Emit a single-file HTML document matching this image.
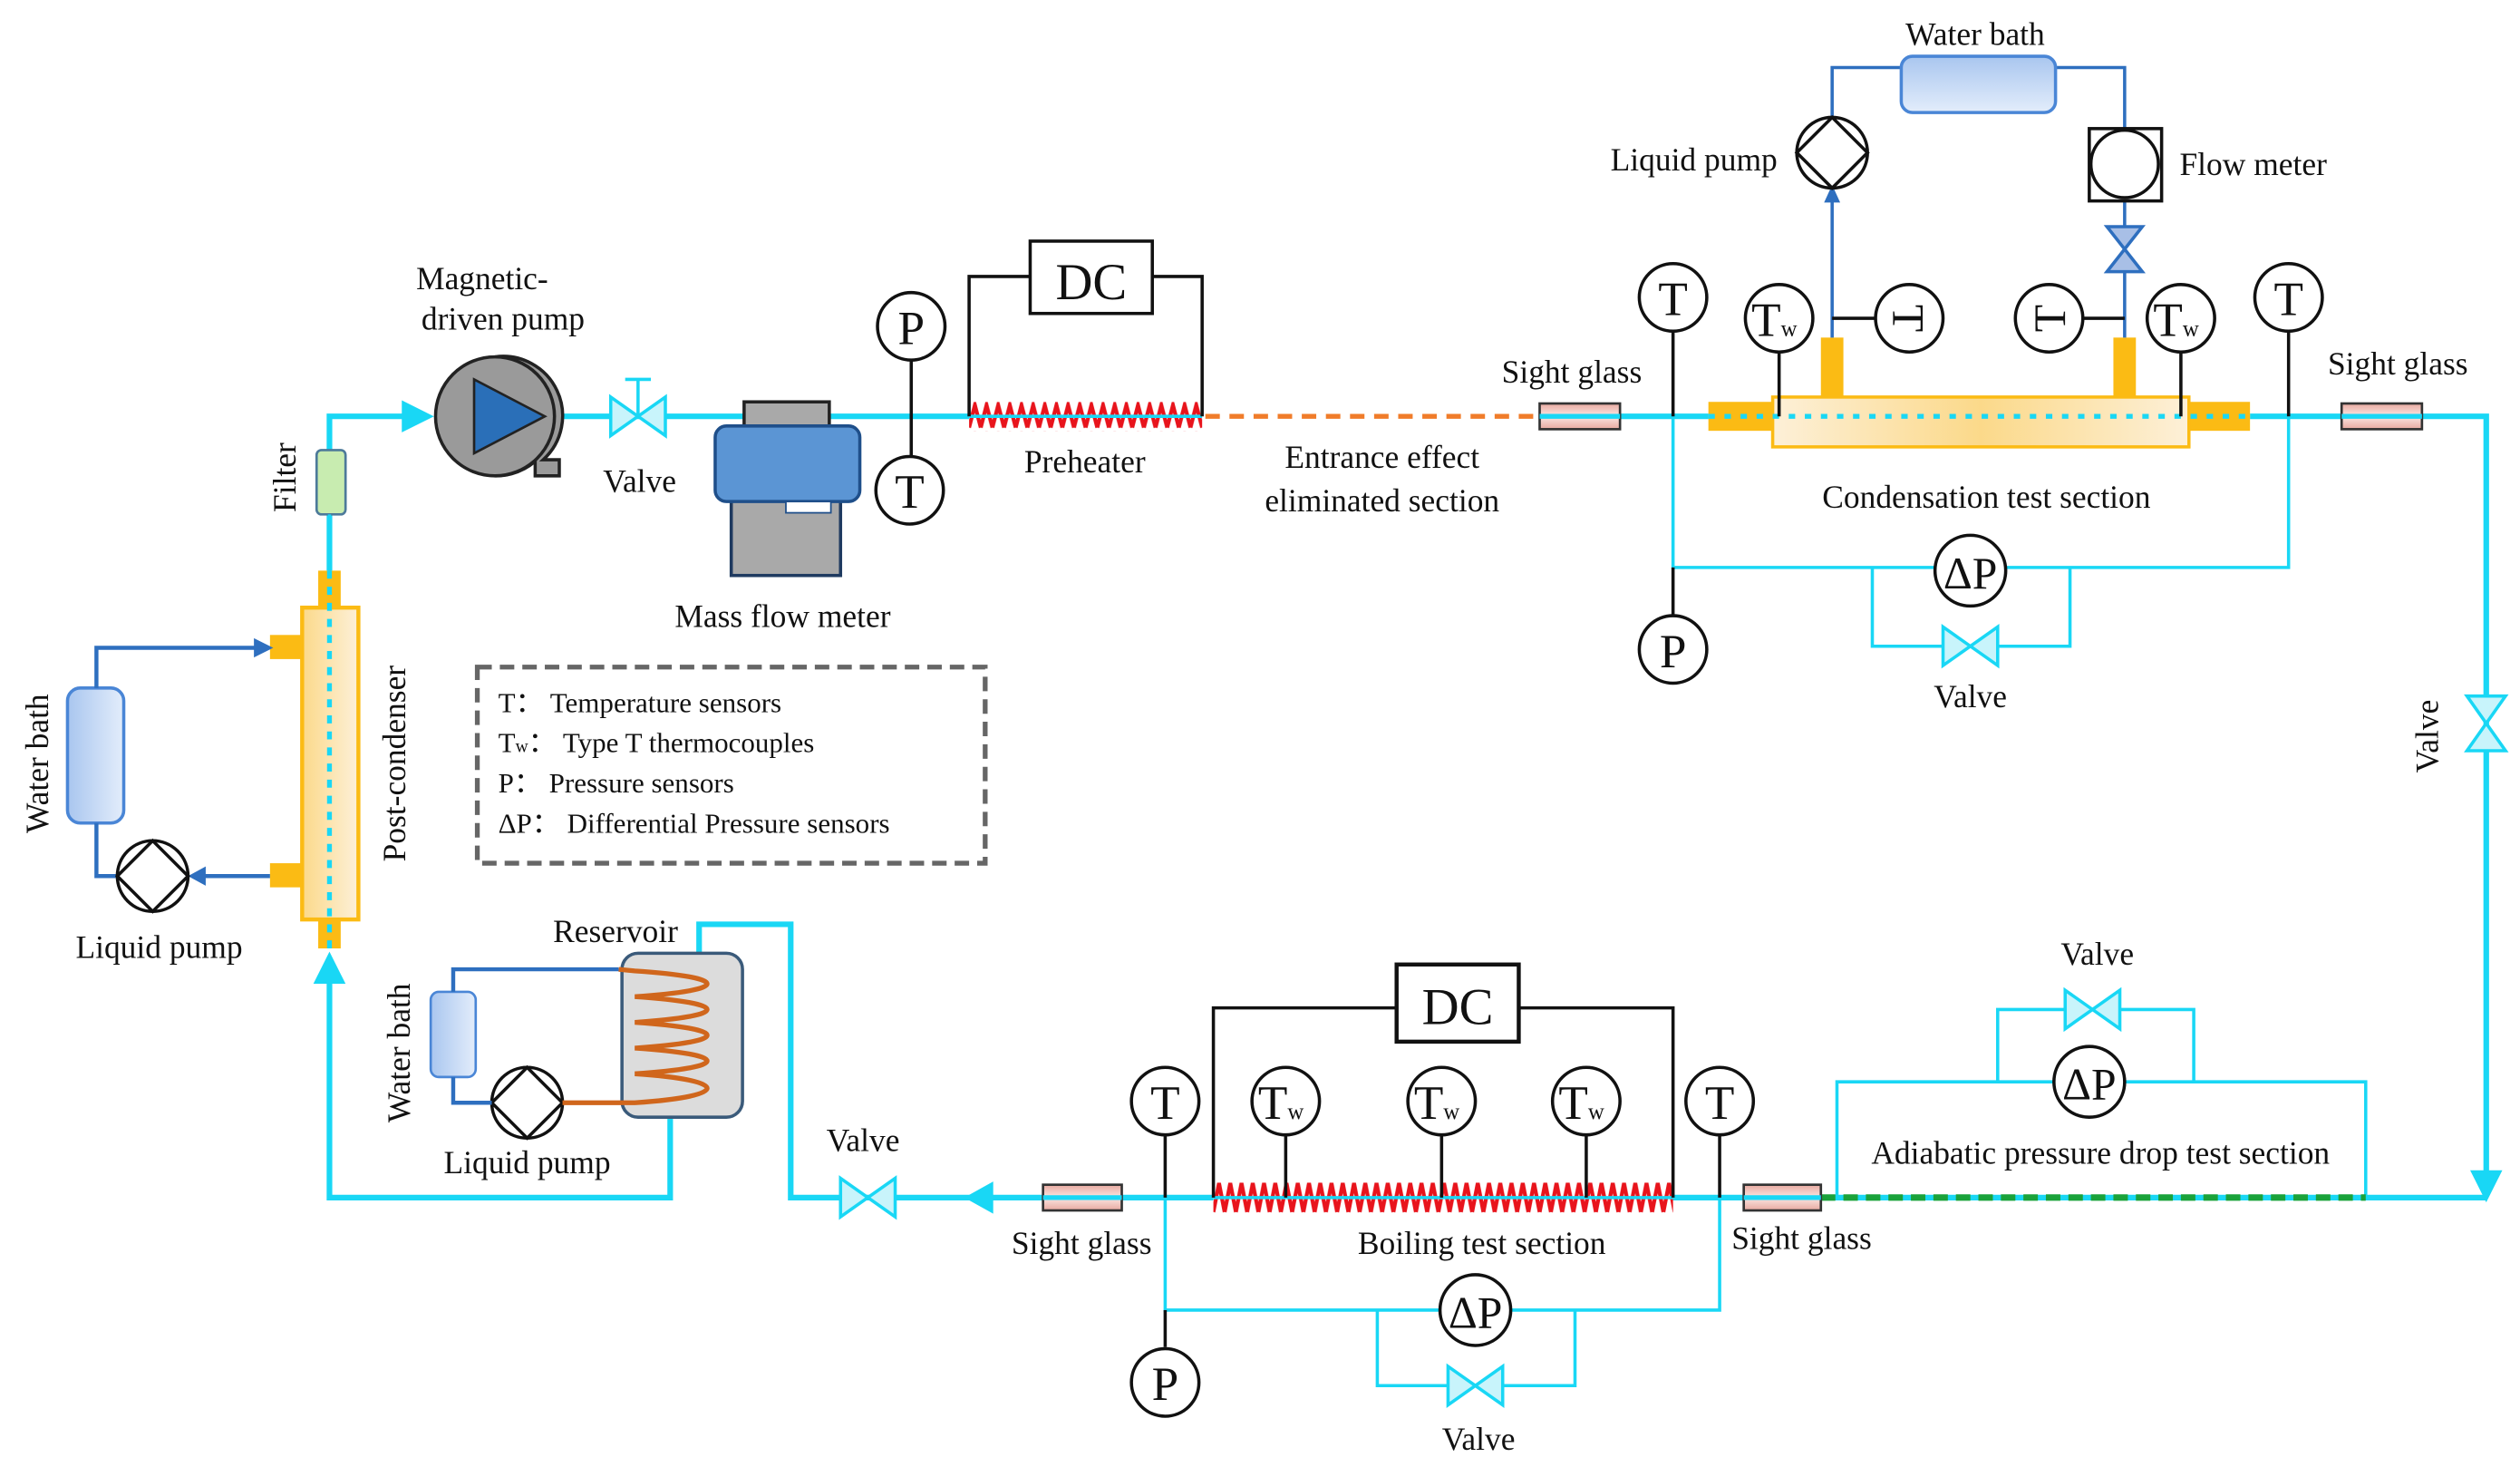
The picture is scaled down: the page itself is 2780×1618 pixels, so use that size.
<!DOCTYPE html>
<html><head><meta charset="utf-8"><style>
html,body{margin:0;padding:0;background:#fff}
svg{display:block}
text{font-family:"Liberation Serif",serif;fill:#111}
</style></head><body>
<svg width="2780" height="1618" viewBox="0 0 1568 912.6" preserveAspectRatio="none" xmlns="http://www.w3.org/2000/svg">
<defs>
<pattern id="zz1" x="603" y="250" width="7.25" height="18" patternUnits="userSpaceOnUse">
<path d="M0,16 L3.6,2 L7.25,16" fill="none" stroke="#e8141c" stroke-width="2.4"/></pattern>
<pattern id="zz2" x="755" y="734" width="7" height="22" patternUnits="userSpaceOnUse">
<path d="M0,20 L3.5,2 L7,20" fill="none" stroke="#e8141c" stroke-width="2.4"/></pattern>
<linearGradient id="gy" x1="0" x2="1"><stop offset="0" stop-color="#fdf0d8"/><stop offset="0.5" stop-color="#fbd98a"/><stop offset="1" stop-color="#fdf0d8"/></linearGradient>
<linearGradient id="gyv" x1="0" x2="1"><stop offset="0" stop-color="#fbd98a"/><stop offset="1" stop-color="#fdf0d8"/></linearGradient>
<linearGradient id="gb" x1="0" y1="0" x2="0" y2="1"><stop offset="0" stop-color="#a9c6ef"/><stop offset="1" stop-color="#e3edfb"/></linearGradient>
<linearGradient id="gbh" x1="0" x2="1"><stop offset="0" stop-color="#a9c6ef"/><stop offset="1" stop-color="#e3edfb"/></linearGradient>
<linearGradient id="gs" x1="0" y1="0" x2="0" y2="1"><stop offset="0" stop-color="#e8a9a0"/><stop offset="0.5" stop-color="#fbe6e2"/><stop offset="1" stop-color="#e8a9a0"/></linearGradient>
</defs>
<g fill="none" stroke="#19d7f5" stroke-width="3.5">
<polyline points="205,355 205,259 262,259"/>
<line x1="345" y1="259" x2="603" y2="259"/>
<line x1="1008" y1="259" x2="1063" y2="259"/>
<polyline points="1400,259 1547,259 1547,735"/>
<polyline points="1547,745 1133,745"/>
<line x1="1041" y1="745" x2="1085" y2="745"/>
<line x1="698" y1="745" x2="755" y2="745"/>
<polyline points="649,745 492,745 492,575 435,575 435,593"/>
<polyline points="417,695 417,745 205,745 205,605"/>
</g>
<g fill="none" stroke="#19d7f5" stroke-width="2">
<polyline points="205,260 205,280"/>
<polyline points="1041,259 1041,353 1424,353 1424,259"/>
<polyline points="1165,353 1165,402 1288,402 1288,353"/>
<polyline points="725,745 725,815 1070,815 1070,745"/>
<polyline points="857,815 857,862 980,862 980,815"/>
<polyline points="1143,745 1143,673 1472,673 1472,745"/>
<polyline points="1243,673 1243,628 1365,628 1365,673"/>
</g>
<polygon points="250,249 270,259 250,269" fill="#19d7f5"/>
<polygon points="195,612 205,592 215,612" fill="#19d7f5"/>
<polygon points="1537,728 1547,748 1557,728" fill="#19d7f5"/>
<polygon points="618,735 600,745 618,755" fill="#19d7f5"/>
<line x1="750" y1="259" x2="958" y2="259" stroke="#f07c2a" stroke-width="3" stroke-dasharray="9,6"/>
<line x1="1133" y1="745" x2="1472" y2="745" stroke="#1aa23a" stroke-width="4" stroke-dasharray="9,5"/>
<rect x="603" y="250" width="145" height="18" fill="url(#zz1)"/>
<rect x="755" y="734" width="286" height="22" fill="url(#zz2)"/>
<line x1="603" y1="259" x2="748" y2="259" stroke="#19d7f5" stroke-width="2"/>
<line x1="755" y1="745" x2="1041" y2="745" stroke="#19d7f5" stroke-width="2"/>
<g fill="none" stroke="#111" stroke-width="2">
<polyline points="641,172 603,172 603,259"/><polyline points="717,172 748,172 748,259"/>
<rect x="641" y="150" width="76" height="45" fill="#fff"/>
<polyline points="869,627 755,627 755,745"/><polyline points="945,627 1041,627 1041,745"/>
<rect x="869" y="600" width="76" height="48" fill="#fff" stroke-width="2.5"/>
</g>
<text x="679" y="186" font-size="32" text-anchor="middle">DC</text>
<text x="907" y="637" font-size="32" text-anchor="middle">DC</text>
<g stroke="#333" stroke-width="1.5" fill="url(#gs)">
<rect x="958" y="251" width="50" height="16"/><rect x="1457" y="251" width="50" height="16"/>
<rect x="649" y="737" width="49" height="16"/><rect x="1085" y="737" width="48" height="16"/>
</g>
<g stroke="#19d7f5" stroke-width="3"><line x1="958" y1="259" x2="1008" y2="259"/><line x1="1457" y1="259" x2="1507" y2="259"/><line x1="649" y1="745" x2="698" y2="745"/><line x1="1085" y1="745" x2="1133" y2="745"/></g>
<path d="M308,222 A37,37 0 1 0 333,287 L333,296 L348,296 L348,286 L338,286 A37,37 0 0 0 308,222 Z" fill="#9a9a9a" stroke="#222" stroke-width="2"/>
<circle cx="308" cy="259" r="37" fill="#9a9a9a" stroke="#222" stroke-width="2"/>
<polygon points="295,236 295,282 339,259" fill="#2a6fb8" stroke="#222" stroke-width="1.5"/>
<g fill="#c8f4fb" stroke="#19d7f5" stroke-width="2">
<polygon points="380,247 414,271 414,247 380,271"/>
<polygon points="1209,390 1243,414 1243,390 1209,414"/>
<polygon points="523,733 557,757 557,733 523,757"/>
<polygon points="901,850 935,874 935,850 901,874"/>
<polygon points="1285,616 1319,640 1319,616 1285,640"/>
<polygon points="1535,433 1559,467 1535,467 1559,433"/>
</g>
<g stroke="#19d7f5" stroke-width="2"><line x1="397" y1="236" x2="397" y2="259"/><line x1="389" y1="236" x2="405" y2="236"/></g>
<rect x="463" y="250" width="53" height="20" fill="#a9a9a9" stroke="#222" stroke-width="2"/>
<rect x="455" y="308" width="68" height="50" fill="#a9a9a9" stroke="#1f3a60" stroke-width="2"/>
<rect x="445" y="265" width="90" height="47" rx="7" fill="#5b95d4" stroke="#1f4f8a" stroke-width="2"/>
<rect x="489" y="312" width="28" height="7" fill="#fff" stroke="#1f4f8a" stroke-width="1"/>
<rect x="197" y="280" width="18" height="40" rx="3" fill="#c8ecb0" stroke="#4d7a9a" stroke-width="1.5"/>
<line x1="205" y1="320" x2="205" y2="355" stroke="#19d7f5" stroke-width="2"/>
<rect x="198" y="355" width="14" height="235" fill="#fbbb14"/>
<rect x="188" y="378" width="35" height="194" fill="url(#gyv)" stroke="#fbbb14" stroke-width="2.5"/>
<rect x="168" y="395" width="20" height="15" fill="#fbbb14"/><rect x="168" y="537" width="20" height="15" fill="#fbbb14"/>
<line x1="205" y1="355" x2="205" y2="590" stroke="#19d7f5" stroke-width="3" stroke-dasharray="5,5"/>
<rect x="42" y="428" width="35" height="84" rx="8" fill="url(#gbh)" stroke="#4a86d6" stroke-width="2"/>
<g fill="none" stroke="#2e6fbf" stroke-width="2.5"><polyline points="60,428 60,403 162,403"/><polyline points="60,512 60,545 73,545"/><line x1="168" y1="545" x2="125" y2="545"/></g>
<polygon points="158,397 170,403 158,409" fill="#2e6fbf"/><polygon points="128,539 117,545 128,551" fill="#2e6fbf"/>
<rect x="1063" y="250" width="337" height="18" fill="#fbbb14"/>
<rect x="1103" y="247" width="259" height="31" fill="url(#gy)" stroke="#fbbb14" stroke-width="2"/>
<rect x="1133" y="210" width="14" height="37" fill="#fbbb14"/><rect x="1315" y="210" width="14" height="37" fill="#fbbb14"/>
<line x1="1063" y1="259" x2="1400" y2="259" stroke="#19d7f5" stroke-width="3" stroke-dasharray="4,6"/>
<g fill="none" stroke="#2e6fbf" stroke-width="2">
<polyline points="1140,210 1140,125"/><polyline points="1140,73 1140,42 1183,42"/>
<polyline points="1279,42 1322,42 1322,80"/><polyline points="1322,125 1322,210"/>
</g>
<polygon points="1135,126 1140,115 1145,126" fill="#2e6fbf"/>
<rect x="1183" y="35" width="96" height="35" rx="7" fill="url(#gb)" stroke="#4a86d6" stroke-width="2"/>
<rect x="1300" y="80" width="45" height="45" fill="#fff" stroke="#111" stroke-width="2"/>
<circle cx="1322" cy="102" r="21" fill="#fff" stroke="#111" stroke-width="2"/>
<polygon points="1311,141 1333,141 1311,169 1333,169" fill="#a8bfe6" stroke="#2e6fbf" stroke-width="2"/>
<g fill="#fff" stroke="#111" stroke-width="2">
<circle cx="1140" cy="95" r="22"/><polygon points="1140,73 1162,95 1140,117 1118,95" fill="none"/>
<circle cx="95" cy="545" r="22"/><polygon points="95,523 117,545 95,567 73,545" fill="none"/>
<circle cx="328" cy="686" r="22"/><polygon points="328,664 350,686 328,708 306,686" fill="none"/>
</g>
<rect x="268" y="617" width="28" height="53" rx="5" fill="url(#gbh)" stroke="#4a86d6" stroke-width="1.5"/>
<rect x="387" y="593" width="75" height="102" rx="10" fill="#dcdcdc" stroke="#3a5a7a" stroke-width="2"/>
<g fill="none" stroke="#2e6fbf" stroke-width="2.5"><polyline points="282,617 282,603 385,603"/><polyline points="282,670 282,686 306,686"/></g>
<path d="M350,686 L395,686 C455,682 455,672 395,668 C455,664 455,656 395,652 C455,648 455,640 395,636 C455,632 455,624 395,620 C455,616 455,608 395,604 L385,603" fill="none" stroke="#d0661c" stroke-width="3"/>
<g stroke="#111" stroke-width="2">
<line x1="567" y1="224" x2="567" y2="284"/>
<line x1="1041" y1="206" x2="1041" y2="259"/><line x1="1424" y1="206" x2="1424" y2="259"/>
<line x1="1041" y1="353" x2="1041" y2="383"/>
<line x1="1107" y1="219" x2="1107" y2="259"/><line x1="1357" y1="219" x2="1357" y2="259"/>
<line x1="1140" y1="198" x2="1167" y2="198"/><line x1="1296" y1="198" x2="1322" y2="198"/>
<line x1="725" y1="706" x2="725" y2="745"/><line x1="1070" y1="706" x2="1070" y2="745"/>
<line x1="800" y1="706" x2="800" y2="745"/><line x1="897" y1="706" x2="897" y2="745"/><line x1="987" y1="706" x2="987" y2="745"/>
<line x1="725" y1="815" x2="725" y2="838"/>
</g>
<g fill="#fff" stroke="#111" stroke-width="2">
<circle cx="567" cy="203" r="21"/><circle cx="566" cy="305" r="21"/>
<circle cx="1041" cy="185" r="21"/><circle cx="1424" cy="185" r="21"/>
<circle cx="1107" cy="198" r="21"/><circle cx="1357" cy="198" r="21"/>
<circle cx="1188" cy="198" r="21"/><circle cx="1275" cy="198" r="21"/>
<circle cx="1226" cy="355" r="22"/><circle cx="1041" cy="404" r="21"/>
<circle cx="725" cy="685" r="21"/><circle cx="1070" cy="685" r="21"/>
<circle cx="800" cy="685" r="21"/><circle cx="897" cy="685" r="21"/><circle cx="987" cy="685" r="21"/>
<circle cx="918" cy="815" r="22"/><circle cx="725" cy="860" r="21"/><circle cx="1300" cy="673" r="22"/>
</g>
<g font-size="30" text-anchor="middle">
<text x="567" y="214">P</text><text x="566" y="316">T</text>
<text x="1041" y="196">T</text><text x="1424" y="196">T</text>
<text x="1041" y="415">P</text><text x="725" y="871">P</text>
<text x="725" y="696">T</text><text x="1070" y="696">T</text>
<text x="1226" y="366" font-size="28">ΔP</text><text x="918" y="826" font-size="28">ΔP</text><text x="1300" y="684" font-size="28">ΔP</text>
<text x="1104" y="209">T<tspan font-size="14">w</tspan></text><text x="1354" y="209">T<tspan font-size="14">w</tspan></text>
<text x="797" y="696">T<tspan font-size="14">w</tspan></text><text x="894" y="696">T<tspan font-size="14">w</tspan></text><text x="984" y="696">T<tspan font-size="14">w</tspan></text>
<text x="1188" y="208" font-size="28" transform="rotate(90 1188 198)">T</text>
<text x="1275" y="208" font-size="28" transform="rotate(-90 1275 198)">T</text>
</g>
<rect x="297" y="415" width="316" height="122" fill="none" stroke="#666" stroke-width="3" stroke-dasharray="9,5"/>
<g font-size="17.5">
<text x="310" y="443">T：  Temperature sensors</text>
<text x="310" y="468">T<tspan font-size="11">w</tspan>：  Type T thermocouples</text>
<text x="310" y="493">P：  Pressure sensors</text>
<text x="310" y="518">ΔP：  Differential Pressure sensors</text>
</g>
<g font-size="20" text-anchor="middle">
<text x="300" y="180">Magnetic-</text><text x="313" y="205">driven pump</text>
<text x="398" y="306">Valve</text>
<text x="487" y="390">Mass flow meter</text>
<text x="675" y="294">Preheater</text>
<text x="860" y="291">Entrance effect</text><text x="860" y="318">eliminated section</text>
<text x="978" y="238">Sight glass</text><text x="1492" y="233">Sight glass</text>
<text x="1229" y="28">Water bath</text>
<text x="1054" y="106">Liquid pump</text><text x="1402" y="109">Flow meter</text>
<text x="1236" y="316">Condensation test section</text>
<text x="1226" y="440">Valve</text>
<text x="99" y="596">Liquid pump</text>
<text x="383" y="586">Reservoir</text>
<text x="328" y="730">Liquid pump</text>
<text x="537" y="716">Valve</text>
<text x="673" y="780">Sight glass</text>
<text x="922" y="780">Boiling test section</text>
<text x="1121" y="777">Sight glass</text>
<text x="920" y="902">Valve</text>
<text x="1305" y="600">Valve</text>
<text x="1307" y="724">Adiabatic pressure drop test section</text>
<text transform="translate(184,297) rotate(-90)">Filter</text>
<text transform="translate(30,475) rotate(-90)">Water bath</text>
<text transform="translate(252,475) rotate(-90)">Post-condenser</text>
<text transform="translate(255,655) rotate(-90)">Water bath</text>
<text transform="translate(1517,458) rotate(-90)">Valve</text>
</g>
</svg>
</body></html>
